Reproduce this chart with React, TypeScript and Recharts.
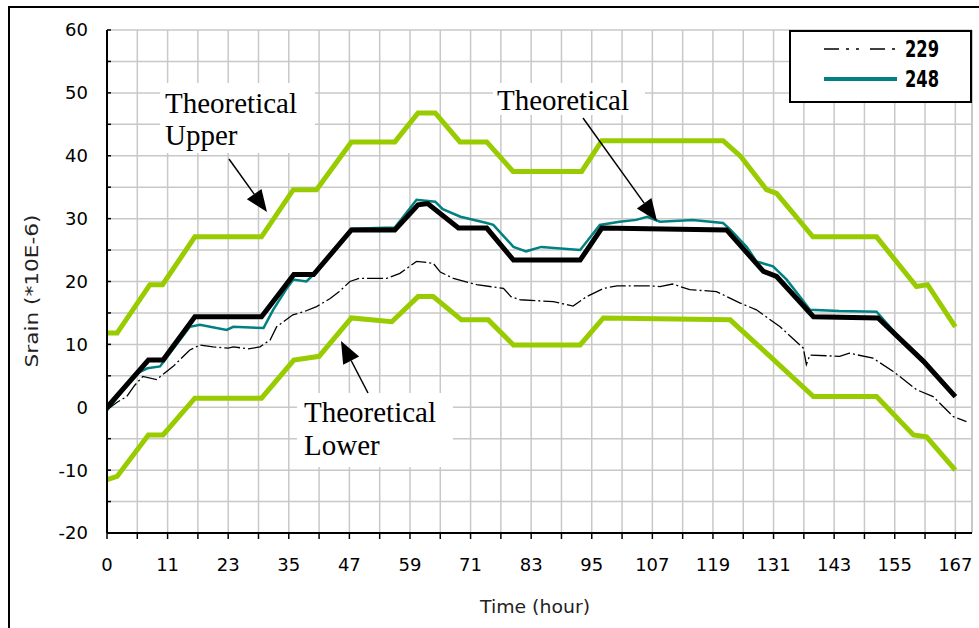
import React from 'react';
import { LineChart, Line, XAxis, YAxis, CartesianGrid, Legend, ReferenceLine } from 'recharts';

// x positions run in "hour index" units; a label sits on every second tick
const hourLabels = ['0', '11', '23', '35', '47', '59', '71', '83', '95', '107', '119', '131', '143', '155', '167'];
const xTicks = [0, 6, 12, 18, 24, 30, 36, 42, 48, 54, 60, 66, 72, 78, 84, 90, 96, 102, 108, 114, 120, 126, 132, 138, 144, 150, 156, 162, 168];
const yTicks = [-20, -15, -10, -5, 0, 5, 10, 15, 20, 25, 30, 35, 40, 45, 50, 55, 60];

const upperHours = [0, 2, 8.5, 11, 17.4, 30.6, 36.9, 41.5, 48.4, 57, 61.6, 65, 69.9, 75.2, 80.4, 94, 98, 122, 125.5, 130.6, 132.6, 139.8, 152.4, 160.3, 162.5, 168];
const upperStrain = [11.8, 11.8, 19.5, 19.5, 27.1, 27.1, 34.6, 34.6, 42.2, 42.2, 46.8, 46.8, 42.2, 42.2, 37.5, 37.5, 42.4, 42.4, 39.9, 34.6, 34, 27.1, 27.1, 19.2, 19.5, 12.8];

const lowerHours = [0, 2, 8.2, 11.1, 17.4, 30.6, 37, 42, 48.4, 56.4, 61.6, 64.6, 70.2, 75.5, 80.5, 93.7, 98.3, 123.4, 130.6, 139.9, 152.4, 159.7, 162.3, 168];
const lowerStrain = [-11.5, -11, -4.4, -4.4, 1.45, 1.45, 7.5, 8.1, 14.2, 13.6, 17.6, 17.6, 13.9, 13.9, 9.9, 9.9, 14.2, 13.9, 8.6, 1.7, 1.7, -4.4, -4.7, -10];

const theoHours = [0, 8.2, 11.1, 17.4, 30.6, 37, 40.9, 48.4, 57, 61.6, 63.5, 69.6, 75.2, 80.5, 93.7, 98, 122.7, 130, 132.6, 139.9, 152.7, 161.7, 168];
const theoStrain = [0, 7.5, 7.5, 14.4, 14.4, 21.1, 21.1, 28.2, 28.2, 32.2, 32.4, 28.5, 28.5, 23.4, 23.4, 28.5, 28.2, 21.6, 20.8, 14.4, 14.2, 7.3, 1.7];

const g248Hours = [0, 3, 5.9, 8, 10.5, 16.4, 18.4, 23.7, 25, 31, 32.9, 35.6, 36.9, 39.5, 40.9, 48.4, 57, 61.3, 65, 66.5, 70, 75.2, 76.5, 80.5, 83, 86, 93.7, 97.6, 101.5, 104.8, 107, 109.5, 116, 122, 123.5, 126.7, 128.6, 131.9, 134.6, 137.2, 139.2, 145, 152.4, 157, 161.7, 168];
const g248Strain = [-0.5, 2.5, 5.4, 6.2, 6.5, 12.8, 13.1, 12.3, 12.8, 12.6, 15.5, 18.9, 20.3, 20, 21.1, 28.4, 28.6, 33, 32.7, 31.5, 30.3, 29.3, 29, 25.5, 24.8, 25.5, 25, 29, 29.5, 29.8, 30.3, 29.5, 29.8, 29.3, 28.2, 25.5, 23.2, 22.4, 20.3, 17.6, 15.5, 15.3, 15.2, 11, 7.5, 1.7];

const g229Hours = [0, 2, 3.9, 5.5, 7.1, 9.8, 11.5, 13.1, 16.4, 18.4, 21, 24, 25, 28, 30.3, 32.3, 33.6, 36.8, 39, 41.5, 44.2, 46, 48.1, 50, 55.4, 58, 61.3, 64.6, 66, 68.6, 73.2, 78.5, 80, 81.8, 88.4, 92.3, 95, 98.3, 101, 107.5, 109.5, 112, 115.4, 120.7, 125.3, 128.6, 133.3, 137.9, 138.5, 139.2, 145.1, 147, 151.7, 155.7, 160.3, 163.6, 167.6, 170.2];
const g229Strain = [-0.4, 0.8, 1.7, 3.5, 4.9, 4.4, 5.5, 6.5, 9.1, 9.9, 9.6, 9.4, 9.6, 9.3, 9.6, 10.7, 12.8, 14.7, 15.2, 16, 17.3, 18.4, 20, 20.5, 20.5, 21.3, 23.2, 22.9, 21.5, 20.5, 19.5, 18.9, 17.6, 17.1, 16.8, 16.1, 17.6, 18.9, 19.3, 19.3, 19.2, 19.6, 18.7, 18.4, 16.6, 15.5, 12.8, 9.4, 6.8, 8.3, 8.1, 8.6, 7.8, 5.7, 2.8, 1.7, -1.5, -2.3];

const toPoints = (hours: number[], strain: number[]) => hours.map((t, i) => ({ t, v: strain[i] }));

const GREEN = '#99cc00';
const TEAL = '#008080';
const GRID = '#c8c8c8';
const SANS = 'DejaVu Sans';
const SERIF = 'Liberation Serif';

const legendLook: Record<string, { width: number; dash?: string }> = {
  '229': { width: 1.5, dash: '15 7 3 7 3 11' },
  '248': { width: 4 },
};

function LegendBox(props: any) {
  const items = (props.payload || []).filter((p: any) => p.type !== 'none').sort((a: any, b: any) => (a.value > b.value ? 1 : -1));
  return (
    <svg width={183} height={73} style={{ display: 'block' }}>
      <rect x={1} y={1} width={181} height={71} fill="#fff" stroke="#000" strokeWidth={2} />
      {items.map((p: any, i: number) => {
        const y = 19 + i * 30;
        const look = legendLook[p.value] || { width: 2 };
        return (
          <g key={p.value}>
            <line x1={35} x2={108} y1={y} y2={y} stroke={p.color} strokeWidth={look.width} strokeDasharray={look.dash} />
            <text x={116} y={y + 8} fontFamily={SANS} fontWeight="bold" fontSize={23} textLength={34} lengthAdjust="spacingAndGlyphs" fill="#000">
              {p.value}
            </text>
          </g>
        );
      })}
    </svg>
  );
}

function Arrow({ x1, y1, x2, y2 }: { x1: number; y1: number; x2: number; y2: number }) {
  const len = Math.hypot(x2 - x1, y2 - y1);
  const ux = (x2 - x1) / len;
  const uy = (y2 - y1) / len;
  const head = 22;
  const half = 9;
  const bx = x2 - ux * head;
  const by = y2 - uy * head;
  const pts = `${x2},${y2} ${bx - uy * half},${by + ux * half} ${bx + uy * half},${by - ux * half}`;
  return (
    <g>
      <line x1={x1} y1={y1} x2={bx} y2={by} stroke="#000" strokeWidth={1.5} />
      <polygon points={pts} fill="#000" />
    </g>
  );
}

export default function App() {
  return (
    <div style={{ position: 'absolute', left: 0, top: 0, width: 979, height: 628, overflow: 'hidden', background: '#fff' }}>
      <div style={{ position: 'absolute', left: 8, top: 6, width: 1000, height: 700, border: '2px solid #000' }} />
      <div style={{ position: 'absolute', left: 0, top: 0 }}>
        <LineChart width={979} height={628} margin={{ top: 30, right: 7, bottom: 0, left: 0 }}>
          <CartesianGrid stroke={GRID} strokeWidth={1.5} />
          <XAxis
            type="number"
            dataKey="t"
            domain={[0, 171.3]}
            ticks={xTicks}
            interval={0}
            allowDataOverflow
            height={95}
            tickSize={6}
            tickMargin={19}
            tickFormatter={(t: number) => (t % 12 === 0 ? hourLabels[t / 12] : '')}
            tick={{ fontFamily: SANS, fontSize: 18, fill: '#000' }}
            axisLine={{ stroke: '#000', strokeWidth: 2 }}
            tickLine={{ stroke: '#000', strokeWidth: 1.5 }}
          />
          <YAxis
            type="number"
            domain={[-20, 60]}
            ticks={yTicks}
            interval={0}
            width={107}
            tickSize={-4}
            tickMargin={23}
            tickFormatter={(v: number) => (v % 10 === 0 ? String(v) : '')}
            tick={{ fontFamily: SANS, fontSize: 18, fill: '#000' }}
            axisLine={{ stroke: '#000', strokeWidth: 2 }}
            tickLine={{ stroke: '#000', strokeWidth: 1.5 }}
          />
          <ReferenceLine x={171.3} stroke={GRID} strokeWidth={2} />
          <Legend
            layout="vertical"
            align="center"
            verticalAlign="middle"
            content={<LegendBox />}
            wrapperStyle={{ left: 789, top: 30, width: 183, height: 73 }}
          />
          <Line data={toPoints(upperHours, upperStrain)} dataKey="v" name="Theoretical Upper" stroke={GREEN} strokeWidth={5} dot={false} legendType="none" isAnimationActive={false} />
          <Line data={toPoints(lowerHours, lowerStrain)} dataKey="v" name="Theoretical Lower" stroke={GREEN} strokeWidth={5} dot={false} legendType="none" isAnimationActive={false} />
          <Line data={toPoints(g248Hours, g248Strain)} dataKey="v" name="248" stroke={TEAL} strokeWidth={2.5} dot={false} isAnimationActive={false} />
          <Line data={toPoints(theoHours, theoStrain)} dataKey="v" name="Theoretical" stroke="#000" strokeWidth={5} dot={false} legendType="none" isAnimationActive={false} />
          <Line data={toPoints(g229Hours, g229Strain)} dataKey="v" name="229" stroke="#000" strokeWidth={1.3} strokeDasharray="16 3 2 3" dot={false} isAnimationActive={false} />
        </LineChart>
      </div>
      <svg width={979} height={628} style={{ position: 'absolute', left: 0, top: 0, pointerEvents: 'none' }}>
        <text x={38} y={291} transform="rotate(-90 38 291)" textAnchor="middle" fontFamily={SANS} fontSize={18} textLength={153} lengthAdjust="spacingAndGlyphs" fill="#222">
          Srain (*10E-6)
        </text>
        <text x={535} y={613} textAnchor="middle" fontFamily={SANS} fontSize={18} textLength={110} lengthAdjust="spacingAndGlyphs" fill="#222">
          Time (hour)
        </text>

        <rect x={160} y={83} width={155} height={70} fill="#fff" />
        <text x={165} y={113} fontFamily={SERIF} fontSize={29} fill="#000">Theoretical</text>
        <text x={165} y={145} fontFamily={SERIF} fontSize={29} fill="#000">Upper</text>
        <Arrow x1={229} y1={159} x2={267} y2={212} />

        <rect x={493} y={83} width={152} height={32} fill="#fff" />
        <text x={497} y={110} fontFamily={SERIF} fontSize={29} fill="#000">Theoretical</text>
        <Arrow x1={583} y1={118} x2={657} y2={221} />

        <rect x={297} y={393} width={156} height={74} fill="#fff" />
        <text x={304} y={422} fontFamily={SERIF} fontSize={29} fill="#000">Theoretical</text>
        <text x={304} y={455} fontFamily={SERIF} fontSize={29} fill="#000">Lower</text>
        <Arrow x1={368} y1={393} x2={341} y2={341} />
      </svg>
    </div>
  );
}
